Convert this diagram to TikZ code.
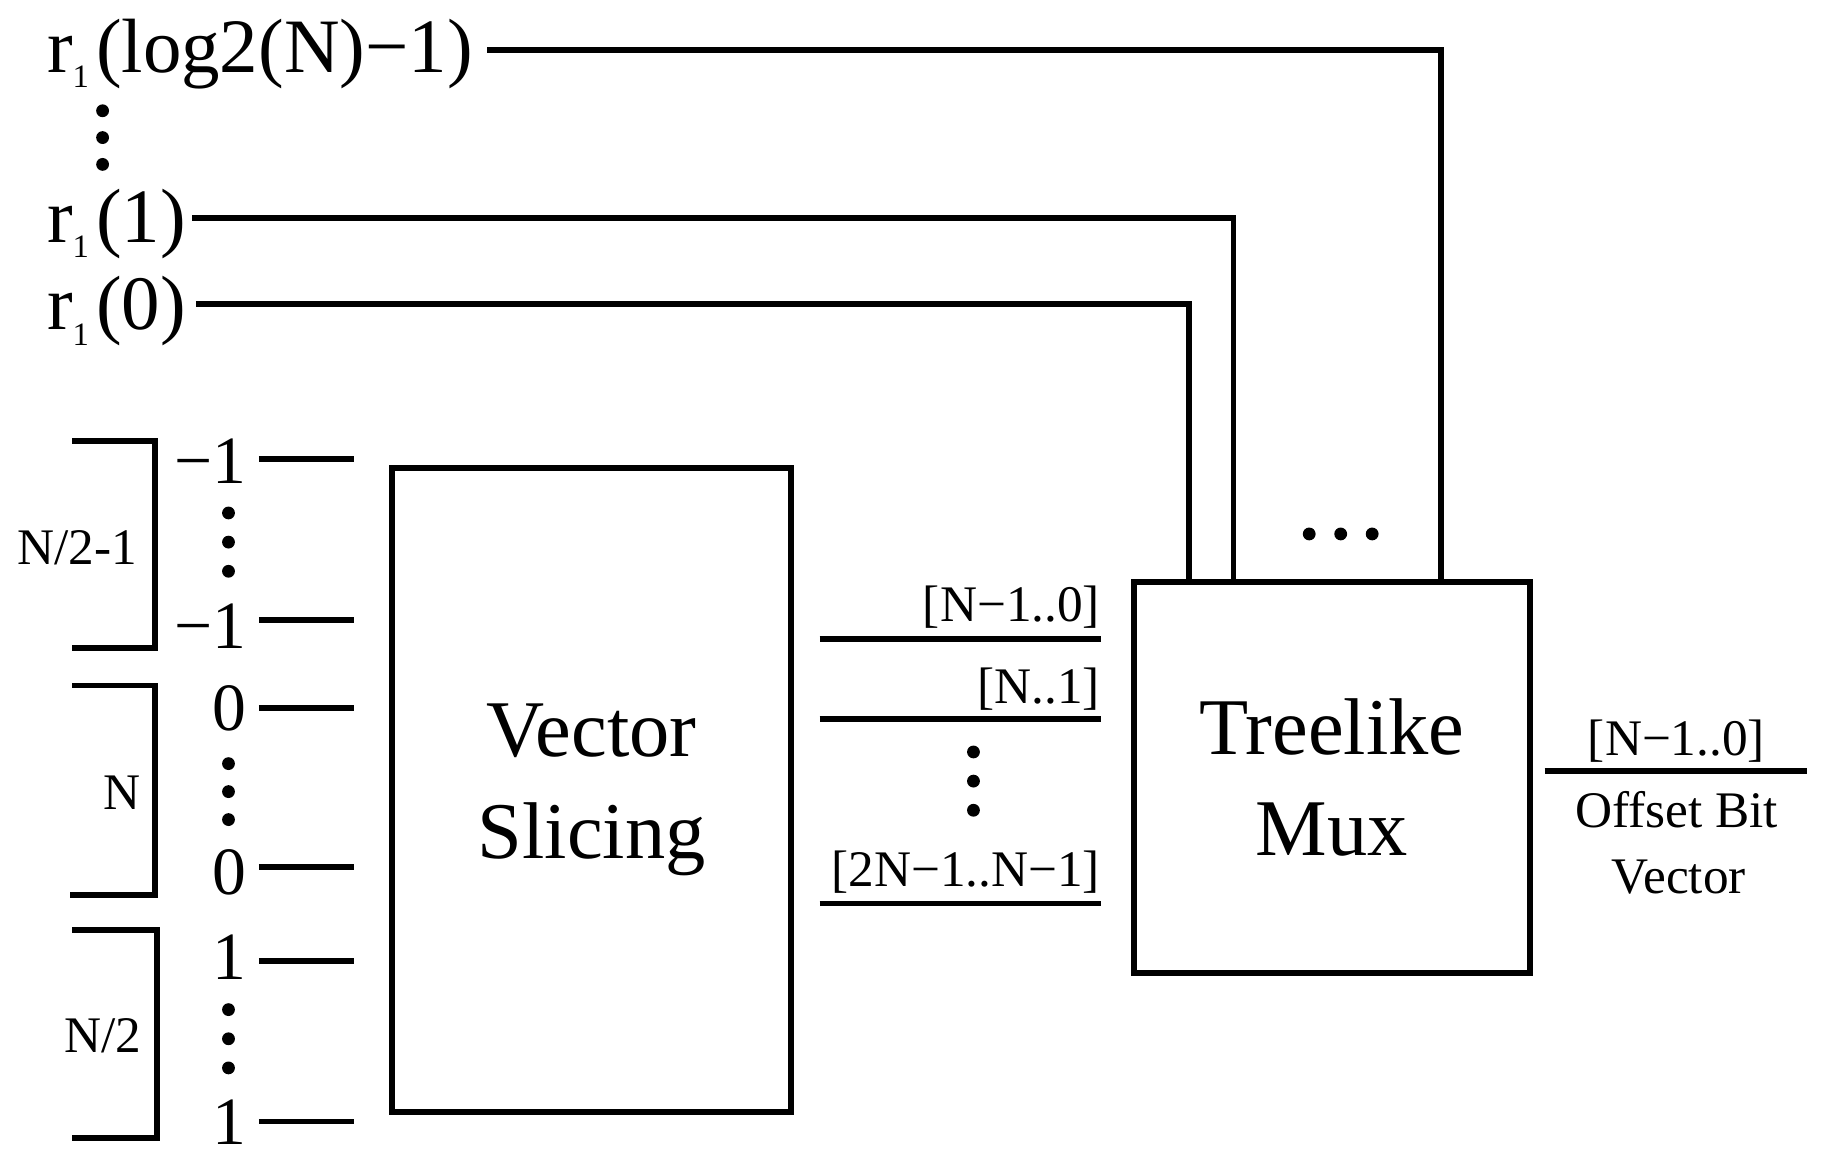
\documentclass[tikz,border=0pt]{standalone}
\usepackage{fontspec}
\setmainfont{Liberation Serif}
\newcommand\rsub{r\raisebox{-0.2em}{\fontsize{14}{14}\selectfont 1}\kern3pt}
\begin{document}
\begin{tikzpicture}[x=0.5pt,y=-0.5pt,
  wire/.style={line width=2.5pt},
  blk/.style={draw,line width=2.5pt,inner sep=0pt,align=center,font=\fontsize{34.5}{43.5}\selectfont},
  dotc/.style={fill,circle,inner sep=0pt,minimum size=5.5pt},
  lab/.style={font=\fontsize{33}{38}\selectfont,inner sep=0pt,anchor=base west},
  num/.style={font=\fontsize{29}{34}\selectfont,inner sep=0pt,anchor=base east},
  sm/.style={font=\fontsize{22}{26}\selectfont,inner sep=0pt},
]
\useasboundingbox (0,0) rectangle (1568,992.4);

% blocks
\node[blk,anchor=north west,minimum width=171pt,minimum height=276pt] (vs) at (334,399) {Vector\\Slicing};
\node[blk,anchor=north west,minimum width=170pt,minimum height=167.5pt] (mux) at (970,497) {Treelike\\Mux};

% top select labels
\node[lab] (rt) at (40,62) {\rsub(log2(N)−1)};
\node[lab] (r1) at (40,208) {\rsub(1)};
\node[lab] (r0) at (40,283) {\rsub(0)};
\node[dotc] (rd1) at (88,95) {};
\node[dotc] (rd2) at (88,118) {};
\node[dotc] (rd3) at (88,141) {};

\coordinate (rts) at (418,43);
\coordinate (r1s) at (165,187);
\coordinate (r0s) at (168,261);
\coordinate (mt2) at (1236,497);
\coordinate (mt1) at (1058,497);
\coordinate (mt0) at (1020,497);
\draw[wire] (rts) -| (mt2);
\draw[wire] (r1s) -| (mt1);
\draw[wire] (r0s) -| (mt0);
\node[dotc] (md1) at (1123,458) {};
\node[dotc] (md2) at (1150,458) {};
\node[dotc] (md3) at (1177,458) {};

% brackets
\draw[wire] (62,378) -- (133,378) -- (133,556) -- (62,556);
\draw[wire] (62,588) -- (133,588) -- (133,768) -- (60,768);
\draw[wire] (62,798) -- (135,798) -- (135,976) -- (62,976);
\node[sm] (b1) at (66,470) {N/2-1};
\node[sm] (b2) at (105,680) {N};
\node[sm] (b3) at (88,888) {N/2};

% input numbers
\node[num] (n1) at (212,415) {−1};
\node[num] (n2) at (212,556) {−1};
\node[num] (n3) at (212,627) {0};
\node[num] (n4) at (212,767) {0};
\node[num] (n5) at (212,840) {1};
\node[num] (n6) at (212,982) {1};
\foreach \y [count=\i] in {440,465,490} \node[dotc] (da\i) at (196,\y) {};
\foreach \y [count=\i] in {655,679,703} \node[dotc] (db\i) at (196,\y) {};
\foreach \y [count=\i] in {866,891,916} \node[dotc] (dc\i) at (196,\y) {};
\foreach \y [count=\i] in {394,532,607,744,824,962} {
  \coordinate (ia\i) at (222,\y);
  \coordinate (ib\i) at (304,\y);
  \draw[wire] (ia\i) -- (ib\i);
}

% slices
\foreach \y [count=\i] in {548,617,775} {
  \coordinate (sa\i) at (703,\y);
  \coordinate (sb\i) at (944,\y);
  \draw[wire] (sa\i) -- (sb\i);
}
\node[sm,anchor=base east] (s1) at (944,533) {[N−1..0]};
\node[sm,anchor=base east] (s2) at (944,603) {[N..1]};
\node[sm,anchor=base east] (s3) at (944,760) {[2N−1..N−1]};
\foreach \y [count=\i] in {645,670,695} \node[dotc] (dd\i) at (835,\y) {};

% output
\coordinate (oa) at (1325,661);
\coordinate (ob) at (1550,661);
\draw[wire] (oa) -- (ob);
\node[sm,anchor=base] (o1) at (1438,648) {[N−1..0]};
\node[sm,anchor=base] (o2) at (1438,710) {Offset Bit};
\node[sm,anchor=base] (o3) at (1440,766) {Vector};
\end{tikzpicture}
\end{document}
